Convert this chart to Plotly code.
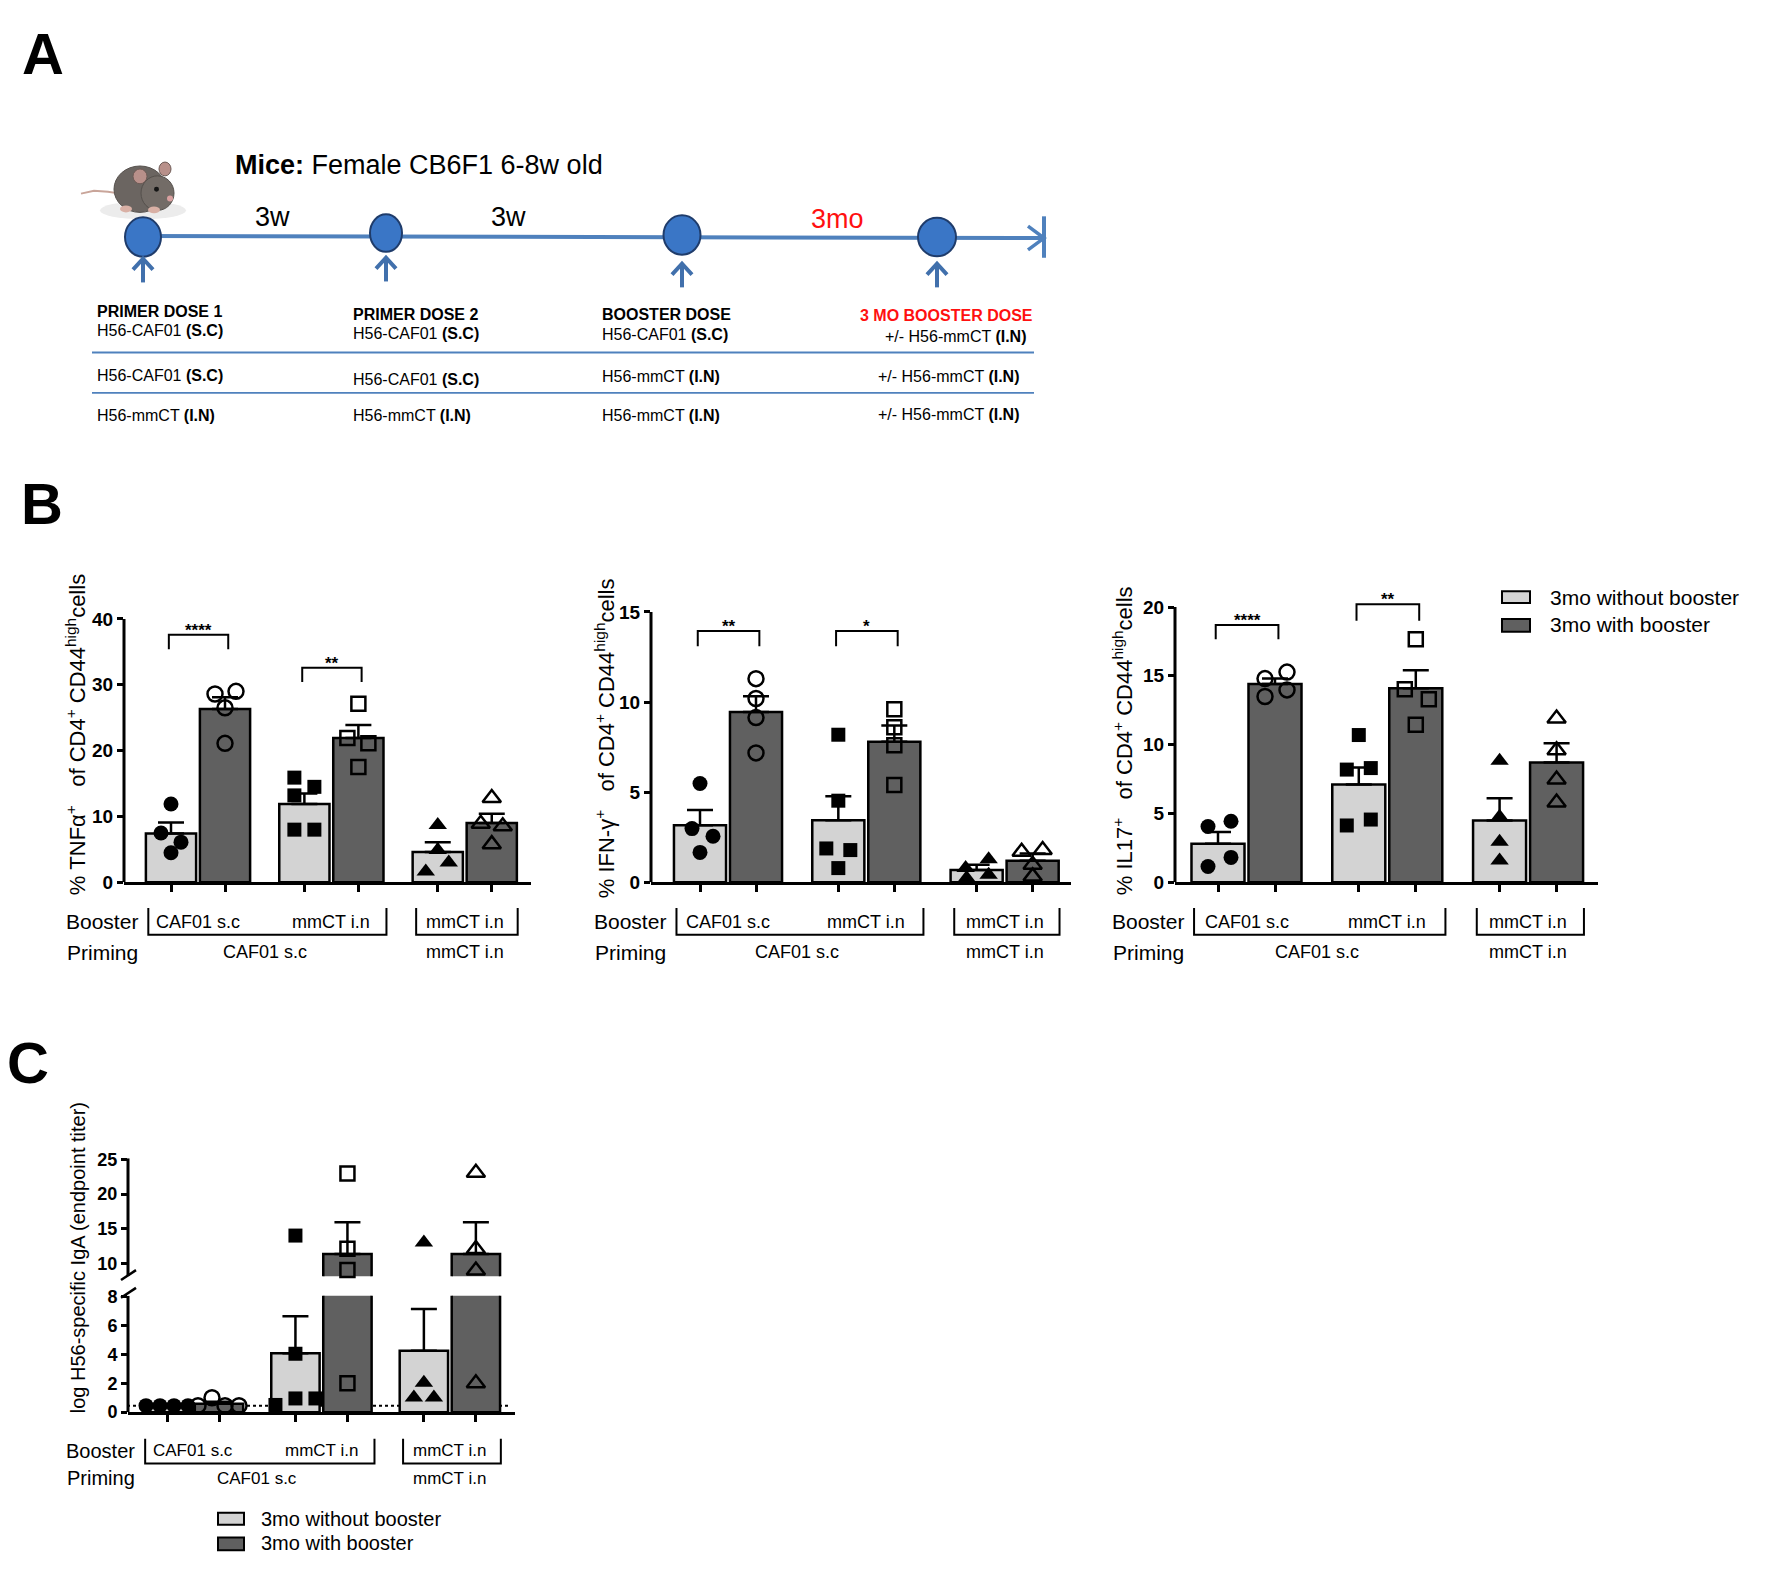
import plotly.graph_objects as go

W, H = 1772, 1577
FONT = "Liberation Sans, Arial, sans-serif"
BLACK = "#000000"
LIGHT = "#d3d3d3"
DARK = "#606060"
BLUE = "#4f81bd"
ARROW_BLUE = "#4170ac"
RED = "#ff1010"

# ---------------- data ----------------
SERIES = ["3mo without booster", "3mo with booster"]
BOOSTER = ["CAF01 s.c", "mmCT i.n", "mmCT i.n"]
PRIMING = ["CAF01 s.c", "mmCT i.n"]

# Panel B: TNFa
tnf_without = [7.4, 11.9, 4.6]
tnf_with = [26.3, 21.9, 9.0]
tnf_without_sem = [1.7, 1.6, 1.5]
tnf_with_sem = [1.8, 2.0, 1.4]
tnf_without_pts = [[11.9, 7.5, 6.1, 4.5], [15.9, 14.5, 13.2, 8.0, 8.0], [8.7, 4.9, 3.0, 1.65]]
tnf_with_pts = [[28.6, 29.0, 26.5, 21.1], [27.1, 21.9, 21.1, 17.5], [12.8, 8.9, 8.5, 5.8]]
tnf_sig = ["****", "**"]

# Panel B: IFN-g
ifn_without = [3.17, 3.44, 0.68]
ifn_with = [9.45, 7.8, 1.2]
ifn_without_sem = [0.85, 1.34, 0.3]
ifn_with_sem = [0.88, 0.9, 0.4]
ifn_without_pts = [[5.48, 2.98, 2.56, 1.66], [8.19, 4.53, 1.88, 1.79, 0.79], [0.79, 1.28, 0.24, 0.42]]
ifn_with_pts = [[11.3, 10.2, 9.14, 7.18], [9.6, 8.6, 7.6, 5.4], [1.7, 1.79, 0.97, 0.33]]
ifn_sig = ["**", "*"]

# Panel B: IL17
il17_without = [2.8, 7.1, 4.5]
il17_with = [14.4, 14.1, 8.7]
il17_without_sem = [0.85, 1.24, 1.6]
il17_with_sem = [0.4, 1.3, 1.4]
il17_without_pts = [[4.06, 4.44, 1.15, 1.81], [10.7, 8.19, 8.3, 4.13, 4.56], [8.83, 4.77, 2.94, 1.58]]
il17_with_pts = [[14.8, 15.27, 13.5, 13.98], [17.66, 14.03, 13.3, 11.45], [11.9, 9.6, 7.47, 5.8]]
il17_sig = ["****", "**"]

# Panel C: IgA
iga_without = [0.45, 4.08, 4.24]
iga_with = [0.59, 11.33, 11.33]
iga_without_sem = [0.0, 2.55, 2.9]
iga_with_sem = [0.14, 4.6, 4.6]
iga_without_pts = [[0.45, 0.45, 0.45, 0.45], [0.5, 4.04, 0.95, 0.95, 14.0], [13.0, 2.04, 1.02, 1.02]]
iga_with_pts = [[0.45, 1.0, 0.45, 0.45], [23.0, 12.1, 9.0, 2.0], [23.1, 12.05, 8.95, 2.0]]
iga_detection_limit = 0.45

# ---------------- style / layout helpers ----------------
def X(px):
    return px / W

def Y(py):
    return 1.0 - py / H

GROUP_STEP = 2.47
BAR_W = 0.93

def pos(g, s):
    return g * GROUP_STEP + s

SYMBOLS = [("circle", "circle-open"), ("square", "square-open"), ("triangle-up", "triangle-up-open")]
SIZES = [15, 14, 16]

# horizontal jitter of dots (pixels)
JIT_TNF = ([[0, -10, 10, 0], [-10, 10, -10, -10, 10], [0, 0, 11, -12]],
           [[-10, 11, 0, 0], [0, -11, 10, 0], [0, -11, 11, 0]])
JIT_IFN = ([[0, -8, 13, 0], [0, 0, -12, 12, 0], [-11, 12, -10, 12]],
           [[0, 0, 0, 0], [0, 0, 0, 0], [-11, 10, 0, 0]])
JIT_IL17 = ([[-10, 13, -10, 13], [0, -12, 12, -12, 12], [0, 0, 0, 0]],
            [[-10, 12, -10, 12], [0, -11, 13, 0], [0, 0, 0, 0]])
JIT_IGA = ([[-21, -7, 7, 21], [-20, 0, 0, 20, 0], [0, 0, -10, 10]],
           [[-21, -7, 6, 20], [0, 0, 0, 0], [0, 0, 0, 0]])

fig = go.Figure()
shapes = []
annotations = []


def txt(x, y, text, size, xanchor="center", yanchor="middle", color=BLACK,
        xref="paper", yref="paper", angle=0, xshift=0, yshift=0, weight=None):
    font = dict(family=FONT, size=size, color=color)
    if weight:
        font["weight"] = weight
    annotations.append(dict(x=x, y=y, xref=xref, yref=yref, text=text, showarrow=False,
                            xanchor=xanchor, yanchor=yanchor, textangle=angle,
                            xshift=xshift, yshift=yshift, font=font))


def pline(x0, y0, x1, y1, color=BLACK, width=2.5, dash=None):
    ln = dict(color=color, width=width)
    if dash:
        ln["dash"] = dash
    shapes.append(dict(type="line", xref="paper", yref="paper",
                       x0=X(x0), y0=Y(y0), x1=X(x1), y1=Y(y1), line=ln))


def ppath(points, color=BLACK, width=2.5, fill=None, close=False):
    d = "M" + " L".join(f"{X(a):.5f},{Y(b):.5f}" for a, b in points)
    if close:
        d += " Z"
    s = dict(type="path", xref="paper", yref="paper", path=d,
             line=dict(color=color, width=width))
    if fill:
        s["fillcolor"] = fill
    shapes.append(s)


def pellipse(x0, y0, x1, y1, fill, line_color, lw=1.5):
    shapes.append(dict(type="circle", xref="paper", yref="paper",
                       x0=X(x0), y0=Y(y1), x1=X(x1), y1=Y(y0),
                       fillcolor=fill, line=dict(color=line_color, width=lw)))


def prect(x0, y0, x1, y1, fill):
    shapes.append(dict(type="rect", xref="paper", yref="paper",
                       x0=X(x0), y0=Y(y1), x1=X(x1), y1=Y(y0),
                       fillcolor=fill, line=dict(color=BLACK, width=2)))


def xaxis_cfg(left, right, c0, unit, anchor):
    return dict(domain=[X(left), X(right)], range=[(left - c0) / unit, (right - c0) / unit],
                tickvals=[pos(g, s) for g in range(3) for s in range(2)],
                showticklabels=False, ticks="outside", ticklen=7, tickwidth=2.5, tickcolor=BLACK,
                showline=True, linewidth=3, linecolor=BLACK, showgrid=False, zeroline=False,
                anchor=anchor, fixedrange=True)


def yaxis_cfg(bottom_px, top_px, yrange, ticks, anchor, size=19):
    return dict(domain=[Y(bottom_px), Y(top_px)], range=yrange, tickvals=ticks,
                ticks="outside", ticklen=6, tickwidth=2.5, tickcolor=BLACK,
                showline=False, showgrid=False, zeroline=False, anchor=anchor,
                tickfont=dict(family=FONT, size=size, color=BLACK, weight="bold"),
                fixedrange=True)


def add_bars(xa, ya, vals, sems):
    for s in range(2):
        fig.add_trace(go.Bar(
            x=[pos(g, s) for g in range(3)], y=vals[s], width=BAR_W, name=SERIES[s],
            marker=dict(color=[LIGHT, DARK][s], line=dict(color=BLACK, width=2.5)),
            error_y=dict(type="data", array=sems[s], arrayminus=[0] * 3, symmetric=False,
                         color=BLACK, thickness=2.5, width=13),
            xaxis=xa, yaxis=ya, showlegend=False, hoverinfo="skip"))


def add_points(xa, ya, pts, jit, unit, keep=lambda v: True):
    for s in range(2):
        for g in range(3):
            xs, ys = [], []
            for v, j in zip(pts[s][g], jit[s][g]):
                if keep(v):
                    xs.append(pos(g, s) + j / unit)
                    ys.append(v)
            if not xs:
                continue
            fig.add_trace(go.Scatter(
                x=xs, y=ys, mode="markers",
                marker=dict(symbol=SYMBOLS[g][s], size=SIZES[g], color=BLACK,
                            line=dict(color=BLACK, width=2.5 if s else 0)),
                xaxis=xa, yaxis=ya, showlegend=False, cliponaxis=False, hoverinfo="skip"))


def axis_line(xa, ya, y0, y1):
    shapes.append(dict(type="line", xref=f"{xa} domain", yref=ya, x0=0, x1=0, y0=y0, y1=y1,
                       line=dict(color=BLACK, width=3)))


def sig_bracket(xa, ya, g, label, ytop, yleg):
    x0, x1 = pos(g, 0) - 0.04, pos(g, 1) + 0.06
    shapes.append(dict(type="path", xref=xa, yref=ya,
                       path=f"M{x0},{yleg} L{x0},{ytop} L{x1},{ytop} L{x1},{yleg}",
                       line=dict(color=BLACK, width=2)))
    txt((x0 + x1) / 2, ytop, label, 17, yanchor="bottom", xref=xa, yref=ya, yshift=-7, weight="bold")


def group_labels(xa, ybr_top, ybr_bot, y_boost, y_prim, size_lab, size_grp):
    left0, right0 = pos(0, 0) - 0.42, pos(1, 1) + 0.52
    left1, right1 = pos(2, 0) - 0.40, pos(2, 1) + 0.48
    for a, b in ((left0, right0), (left1, right1)):
        shapes.append(dict(type="path", xref=xa, yref="paper",
                           path=f"M{a},{Y(ybr_top)} L{a},{Y(ybr_bot)} L{b},{Y(ybr_bot)} L{b},{Y(ybr_top)}",
                           line=dict(color=BLACK, width=2)))
    txt(left0, Y(y_boost), "Booster", size_lab, xanchor="right", xref=xa, xshift=-8)
    txt(left0, Y(y_prim), "Priming", size_lab, xanchor="right", xref=xa, xshift=-8)
    for g in range(3):
        txt((pos(g, 0) + pos(g, 1)) / 2, Y(y_boost), BOOSTER[g], size_grp, xref=xa)
    txt((pos(0, 0) + pos(1, 1)) / 2, Y(y_prim), PRIMING[0], size_grp, xref=xa)
    txt((pos(2, 0) + pos(2, 1)) / 2, Y(y_prim), PRIMING[1], size_grp, xref=xa)


# ---------------- Panel B ----------------
B_PANELS = [
    dict(n=1, left=116, right=523, top=609, zero=876, c0=163, unit=54, yrange=[0, 40],
         ticks=[0, 10, 20, 30, 40], axis_top=40,
         vals=(tnf_without, tnf_with), sems=(tnf_without_sem, tnf_with_sem),
         pts=(tnf_without_pts, tnf_with_pts), jit=JIT_TNF, sig=tnf_sig,
         sig_y=[(37.6, 35.4), (32.6, 30.4)],
         title="%\u00a0TNFα<sup>+</sup>\u00a0\u00a0 of CD4<sup>+</sup> CD44<sup>high</sup>cells",
         title_xy=(68, 727)),
    dict(n=2, left=643, right=1063, top=602, zero=876, c0=692, unit=56, yrange=[0, 15],
         ticks=[0, 5, 10, 15], axis_top=15,
         vals=(ifn_without, ifn_with), sems=(ifn_without_sem, ifn_with_sem),
         pts=(ifn_without_pts, ifn_with_pts), jit=JIT_IFN, sig=ifn_sig,
         sig_y=[(13.95, 13.1), (13.95, 13.1)],
         title="%\u00a0IFN-γ<sup>+</sup>\u00a0\u00a0 of CD4<sup>+</sup> CD44<sup>high</sup>cells",
         title_xy=(597, 730)),
    dict(n=3, left=1167, right=1590, top=583, zero=876, c0=1210, unit=57, yrange=[0, 21],
         ticks=[0, 5, 10, 15, 20], axis_top=20,
         vals=(il17_without, il17_with), sems=(il17_without_sem, il17_with_sem),
         pts=(il17_without_pts, il17_with_pts), jit=JIT_IL17, sig=il17_sig,
         sig_y=[(18.7, 17.66), (20.2, 19.0)],
         title="%\u00a0IL17<sup>+</sup>\u00a0\u00a0 of CD4<sup>+</sup> CD44<sup>high</sup>cells",
         title_xy=(1115, 733)),
]

layout_axes = {}
for p in B_PANELS:
    n = p["n"]
    xa = "x" if n == 1 else f"x{n}"
    ya = "y" if n == 1 else f"y{n}"
    layout_axes["xaxis" if n == 1 else f"xaxis{n}"] = xaxis_cfg(p["left"], p["right"], p["c0"], p["unit"], ya)
    layout_axes["yaxis" if n == 1 else f"yaxis{n}"] = yaxis_cfg(p["zero"], p["top"], p["yrange"], p["ticks"], xa)
    add_bars(xa, ya, p["vals"], p["sems"])
    add_points(xa, ya, p["pts"], p["jit"], p["unit"])
    axis_line(xa, ya, 0, p["axis_top"])
    for g, (lab, (yt, yl)) in enumerate(zip(p["sig"], p["sig_y"])):
        sig_bracket(xa, ya, g, lab, yt, yl)
    group_labels(xa, 902, 929, 916, 947, 21, 18)
    tx, ty = p["title_xy"]
    txt(X(tx), Y(ty), p["title"], 22, angle=-90)

# legend for panel B
prect(1494, 581, 1522, 593, LIGHT)
prect(1494, 609, 1522, 622, DARK)
txt(X(1540), Y(587), SERIES[0], 21, xanchor="left")
txt(X(1540), Y(615), SERIES[1], 21, xanchor="left")

# ---------------- Panel C (broken axis) ----------------
C_LEFT, C_RIGHT, C_C0, C_UNIT = 120, 507, 159, 52
LOW_RANGE = [0, 8.05]
UP_RANGE = [8.1, 25.2]
layout_axes["xaxis4"] = xaxis_cfg(C_LEFT, C_RIGHT, C_C0, C_UNIT, "y4")
layout_axes["yaxis4"] = yaxis_cfg(1413, 1295, LOW_RANGE, [0, 2, 4, 6, 8], "x4", size=18)
layout_axes["yaxis5"] = yaxis_cfg(1275.3, 1155.6, UP_RANGE, [10, 15, 20, 25], "x4", size=18)

shapes.append(dict(type="line", xref="x4", yref="y4", layer="below",
                   x0=(C_LEFT - 7 - C_C0) / C_UNIT, x1=(502 - C_C0) / C_UNIT,
                   y0=iga_detection_limit, y1=iga_detection_limit,
                   line=dict(color=BLACK, width=2, dash="dot")))

for ya in ("y4", "y5"):
    add_bars("x4", ya, (iga_without, iga_with), (iga_without_sem, iga_with_sem))
add_points("x4", "y4", (iga_without_pts, iga_with_pts), JIT_IGA, C_UNIT, keep=lambda v: v <= LOW_RANGE[1])
add_points("x4", "y5", (iga_without_pts, iga_with_pts), JIT_IGA, C_UNIT, keep=lambda v: v > LOW_RANGE[1])
axis_line("x4", "y4", LOW_RANGE[0], LOW_RANGE[1])
axis_line("x4", "y5", UP_RANGE[0], UP_RANGE[1])
# break marks
pline(113, 1279, 128, 1269, width=2.5)
pline(113, 1297, 128, 1287, width=2.5)

group_labels("x4", 1440, 1465, 1452, 1480, 20, 17)
txt(X(70), Y(1257), "log H56-specific IgA (endpoint titer)", 20, angle=-90)

prect(210, 1515, 236, 1527, LIGHT)
prect(210, 1540, 236, 1553, DARK)
txt(X(251), Y(1521), SERIES[0], 20, xanchor="left")
txt(X(251), Y(1546), SERIES[1], 20, xanchor="left")

# ---------------- Panel A (schematic) ----------------
# mouse (simplified drawing)
pellipse(92, 186, 178, 204, "#ececec", "#ececec", 0)                       # soft shadow
ppath([(73, 178), (86, 175), (100, 176), (112, 178)], color="#c9a59a", width=2)  # tail
pellipse(106, 150, 158, 197, "#6b6561", "#55504c", 1)                       # body
pellipse(133, 160, 166, 195, "#736c67", "#55504c", 1)                       # head
pellipse(125, 153, 139, 168, "#b8908a", "#6d5a55", 1)                       # ear
pellipse(151, 146, 163, 160, "#b8908a", "#6d5a55", 1)                       # ear
pellipse(146, 171, 151, 176, "#151515", "#151515", 0)                       # eye
pellipse(159, 180, 165, 186, "#d9a0a0", "#c08080", 0)                       # nose
pellipse(112, 190, 124, 197, "#d9b0a5", "#c09a90", 0)                       # foot
pellipse(140, 191, 152, 198, "#d9b0a5", "#c09a90", 0)                       # foot

txt(X(225), Y(149), "<b>Mice:</b> Female CB6F1 6-8w old", 27, xanchor="left")

# timeline
pline(135, 221, 1036, 223, color=BLUE, width=4)
pline(1036, 201, 1036, 243, color=BLUE, width=4)
ppath([(1020, 211), (1036, 223), (1020, 235)], color=BLUE, width=3.5)
CIRCLES = [(135, 222, 36, 40, 244), (378, 218, 32, 38, 243), (674, 220, 37, 40, 249), (929, 222, 38, 39, 249)]
for cx, cy, cw, ch, ay in CIRCLES:
    pellipse(cx - cw / 2, cy - ch / 2, cx + cw / 2, cy + ch / 2, "#3a76c6", "#1f3c6b", 2)
    pline(cx, ay + 2, cx, ay + 24, color=ARROW_BLUE, width=4)
    ppath([(cx - 10, ay + 11), (cx, ay), (cx + 10, ay + 11)], color=ARROW_BLUE, width=4)

txt(X(264), Y(202), "3w", 27)
txt(X(500), Y(202), "3w", 27)
txt(X(829), Y(204), "3mo", 27, color=RED)

TABLE = [
    (87, 297, "<b>PRIMER DOSE 1</b>", "left", BLACK),
    (87, 317, "H56-CAF01 <b>(S.C)</b>", "left", BLACK),
    (343, 300, "<b>PRIMER DOSE 2</b>", "left", BLACK),
    (343, 320, "H56-CAF01 <b>(S.C)</b>", "left", BLACK),
    (592, 300, "<b>BOOSTER DOSE</b>", "left", BLACK),
    (592, 321, "H56-CAF01 <b>(S.C)</b>", "left", BLACK),
    (1027, 302, "<b>3 MO BOOSTER DOSE</b>", "right", RED),
    (1021, 323, "+/- H56-mmCT <b>(I.N)</b>", "right", BLACK),
    (87, 362, "H56-CAF01 <b>(S.C)</b>", "left", BLACK),
    (343, 366, "H56-CAF01 <b>(S.C)</b>", "left", BLACK),
    (592, 363, "H56-mmCT <b>(I.N)</b>", "left", BLACK),
    (1014, 363, "+/- H56-mmCT <b>(I.N)</b>", "right", BLACK),
    (87, 403, "H56-mmCT <b>(I.N)</b>", "left", BLACK),
    (343, 403, "H56-mmCT <b>(I.N)</b>", "left", BLACK),
    (592, 403, "H56-mmCT <b>(I.N)</b>", "left", BLACK),
    (1014, 402, "+/- H56-mmCT <b>(I.N)</b>", "right", BLACK),
]
for tx, ty, t, anc, col in TABLE:
    txt(X(tx), Y(ty), t, 16, xanchor=anc, color=col)
pline(84, 339, 1026, 339, color=BLUE, width=1.8)
pline(84, 380, 1026, 380, color=BLUE, width=1.8)

# panel letters
txt(X(35), Y(36), "A", 58, weight="bold")
txt(X(34), Y(492), "B", 58, weight="bold")
txt(X(20), Y(1059), "C", 58, weight="bold")

fig.update_layout(
    width=W, height=H, autosize=False,
    margin=dict(l=0, r=0, t=0, b=0),
    paper_bgcolor="white", plot_bgcolor="white",
    barmode="overlay", showlegend=False,
    font=dict(family=FONT, color=BLACK),
    shapes=shapes, annotations=annotations,
    **layout_axes,
)

fig.write_html("out.html")
